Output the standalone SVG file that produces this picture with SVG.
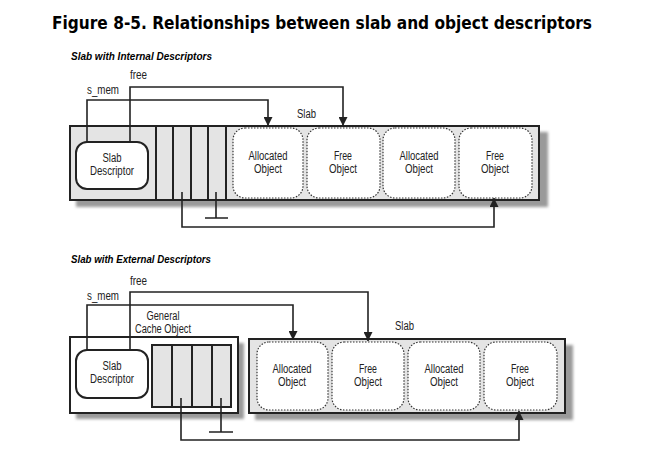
<svg xmlns="http://www.w3.org/2000/svg" width="669" height="469" viewBox="0 0 669 469">
<style>
.title{font-family:"DejaVu Sans",Verdana,sans-serif;font-weight:bold;font-size:17px;fill:#000}
.sub{font-family:"Liberation Sans",Arial,sans-serif;font-weight:bold;font-style:italic;font-size:11px;fill:#000}
.lbl{font-family:"Liberation Sans",Arial,sans-serif;font-size:12px;fill:#222}
.outer{fill:#e4e4e4;stroke:#222;stroke-width:2}
.white{fill:#fff;stroke:#222;stroke-width:2}
.shadow{fill:#9a9a9a;filter:url(#blur)}
.obj{fill:#fff;stroke:#333;stroke-width:1.2;stroke-dasharray:1.5 1.5}
.desc{fill:#fff;stroke:#222;stroke-width:2}
.div{stroke:#222;stroke-width:2}
.conn{fill:none;stroke:#222;stroke-width:1.6}
</style>
<defs>
<filter id="blur" x="-10%" y="-10%" width="120%" height="130%"><feGaussianBlur stdDeviation="1.5"/></filter>
<marker id="arr" viewBox="0 0 10 10" refX="10" refY="5" markerWidth="9" markerHeight="9" markerUnits="userSpaceOnUse" orient="auto"><path d="M0,0 L10,5 L0,10 z" fill="#222"/></marker>
</defs>
<rect width="669" height="469" fill="#fff"/>
<text class="title" x="52" y="29" textLength="540" lengthAdjust="spacingAndGlyphs">Figure 8-5. Relationships between slab and object descriptors</text>

<text class="sub" x="71" y="60" textLength="141" lengthAdjust="spacingAndGlyphs">Slab with Internal Descriptors</text>

<g id="slab-internal">
<rect class="shadow" x="76" y="132" width="472" height="75"/>
<rect class="outer" x="70" y="126" width="469" height="74"/>
<line class="div" x1="156" y1="126" x2="156" y2="200"/>
<line class="div" x1="173" y1="126" x2="173" y2="200"/>
<line class="div" x1="191" y1="126" x2="191" y2="200"/>
<line class="div" x1="208" y1="126" x2="208" y2="200"/>
<line class="div" x1="226" y1="126" x2="226" y2="200"/>
<text class="lbl" x="297" y="118" textLength="19" lengthAdjust="spacingAndGlyphs">Slab</text>
</g>
<g id="desc-internal">
<rect class="desc" x="76" y="142" width="72" height="47" rx="11"/>
<text class="lbl" x="112" y="162" text-anchor="middle" textLength="19" lengthAdjust="spacingAndGlyphs">Slab</text>
<text class="lbl" x="112" y="175" text-anchor="middle" textLength="44" lengthAdjust="spacingAndGlyphs">Descriptor</text>
</g>
<g id="obj-i1">
<rect class="obj" x="233" y="128" width="70" height="70" rx="12"/>
<text class="lbl" x="268" y="160" text-anchor="middle" textLength="39" lengthAdjust="spacingAndGlyphs">Allocated</text>
<text class="lbl" x="268" y="173" text-anchor="middle" textLength="28" lengthAdjust="spacingAndGlyphs">Object</text>
</g>
<g id="obj-i2">
<rect class="obj" x="307" y="128" width="73" height="70" rx="12"/>
<text class="lbl" x="343" y="160" text-anchor="middle" textLength="18" lengthAdjust="spacingAndGlyphs">Free</text>
<text class="lbl" x="343" y="173" text-anchor="middle" textLength="28" lengthAdjust="spacingAndGlyphs">Object</text>
</g>
<g id="obj-i3">
<rect class="obj" x="383" y="128" width="72" height="70" rx="12"/>
<text class="lbl" x="419" y="160" text-anchor="middle" textLength="39" lengthAdjust="spacingAndGlyphs">Allocated</text>
<text class="lbl" x="419" y="173" text-anchor="middle" textLength="28" lengthAdjust="spacingAndGlyphs">Object</text>
</g>
<g id="obj-i4">
<rect class="obj" x="459" y="128" width="73" height="70" rx="12"/>
<text class="lbl" x="495" y="160" text-anchor="middle" textLength="18" lengthAdjust="spacingAndGlyphs">Free</text>
<text class="lbl" x="495" y="173" text-anchor="middle" textLength="28" lengthAdjust="spacingAndGlyphs">Object</text>
</g>

<text class="sub" x="71" y="263" textLength="140" lengthAdjust="spacingAndGlyphs">Slab with External Descriptors</text>

<g id="cache-external">
<rect class="shadow" x="76" y="343" width="168" height="76"/>
<rect class="white" x="70" y="337" width="168" height="76"/>
<rect class="outer" x="152" y="345" width="79" height="62"/>
<line class="div" x1="172" y1="345" x2="172" y2="407"/>
<line class="div" x1="192" y1="345" x2="192" y2="407"/>
<line class="div" x1="212" y1="345" x2="212" y2="407"/>
<text class="lbl" x="163" y="320" text-anchor="middle" textLength="33" lengthAdjust="spacingAndGlyphs">General</text>
<text class="lbl" x="163" y="333" text-anchor="middle" textLength="56" lengthAdjust="spacingAndGlyphs">Cache Object</text>
</g>
<g id="desc-external">
<rect class="desc" x="76" y="350" width="72" height="48" rx="11"/>
<text class="lbl" x="112" y="370" text-anchor="middle" textLength="19" lengthAdjust="spacingAndGlyphs">Slab</text>
<text class="lbl" x="112" y="383" text-anchor="middle" textLength="44" lengthAdjust="spacingAndGlyphs">Descriptor</text>
</g>
<g id="slab-external">
<rect class="shadow" x="255" y="345" width="318" height="75"/>
<rect class="outer" x="249" y="339" width="316" height="74"/>
<text class="lbl" x="395" y="330" textLength="19" lengthAdjust="spacingAndGlyphs">Slab</text>
</g>
<g id="obj-e1">
<rect class="obj" x="257" y="342" width="71" height="68" rx="12"/>
<text class="lbl" x="292" y="373" text-anchor="middle" textLength="39" lengthAdjust="spacingAndGlyphs">Allocated</text>
<text class="lbl" x="292" y="386" text-anchor="middle" textLength="28" lengthAdjust="spacingAndGlyphs">Object</text>
</g>
<g id="obj-e2">
<rect class="obj" x="332" y="342" width="72" height="68" rx="12"/>
<text class="lbl" x="368" y="373" text-anchor="middle" textLength="18" lengthAdjust="spacingAndGlyphs">Free</text>
<text class="lbl" x="368" y="386" text-anchor="middle" textLength="28" lengthAdjust="spacingAndGlyphs">Object</text>
</g>
<g id="obj-e3">
<rect class="obj" x="408" y="342" width="72" height="68" rx="12"/>
<text class="lbl" x="444" y="373" text-anchor="middle" textLength="39" lengthAdjust="spacingAndGlyphs">Allocated</text>
<text class="lbl" x="444" y="386" text-anchor="middle" textLength="28" lengthAdjust="spacingAndGlyphs">Object</text>
</g>
<g id="obj-e4">
<rect class="obj" x="484" y="342" width="73" height="68" rx="12"/>
<text class="lbl" x="520" y="373" text-anchor="middle" textLength="18" lengthAdjust="spacingAndGlyphs">Free</text>
<text class="lbl" x="520" y="386" text-anchor="middle" textLength="28" lengthAdjust="spacingAndGlyphs">Object</text>
</g>

<g id="connectors">
<path class="conn" d="M87,142 V100 H268 V126" marker-end="url(#arr)"/>
<path class="conn" d="M130,142 V87 H343 V126" marker-end="url(#arr)"/>
<path class="conn" d="M182,192 V227 H494 V198" marker-end="url(#arr)"/>
<path class="conn" d="M216,192 V218 M205,218 H228"/>
<path class="conn" d="M87,350 V305 H293 V340" marker-end="url(#arr)"/>
<path class="conn" d="M130,350 V292 H368 V341" marker-end="url(#arr)"/>
<path class="conn" d="M181,398 V440 H519 V411" marker-end="url(#arr)"/>
<path class="conn" d="M221,398 V432 M209,432 H233"/>
<text class="lbl" x="130" y="79" textLength="17" lengthAdjust="spacingAndGlyphs">free</text>
<text class="lbl" x="87" y="94" textLength="32" lengthAdjust="spacingAndGlyphs">s_mem</text>
<text class="lbl" x="130" y="285" textLength="17" lengthAdjust="spacingAndGlyphs">free</text>
<text class="lbl" x="87" y="300" textLength="32" lengthAdjust="spacingAndGlyphs">s_mem</text>
</g>
</svg>
